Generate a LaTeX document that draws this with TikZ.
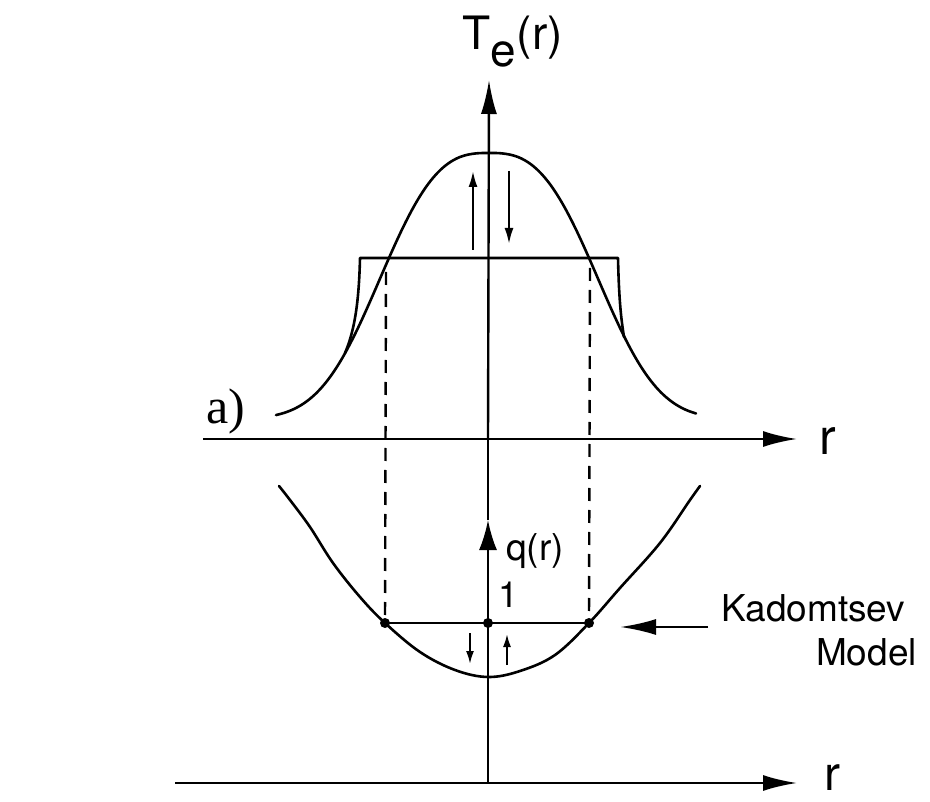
\documentclass[tikz,border=0pt]{standalone}
\usepackage{fontspec}
\setmainfont{TeX Gyre Heros}
\newfontfamily\serifa{Liberation Serif}
\usetikzlibrary{arrows.meta}
\begin{document}
\begin{tikzpicture}[x=1pt,y=-1pt,
  curve/.style={line width=2.6pt, line join=round, line cap=round},
  axis/.style={line width=2.4pt},
  bigtip/.style={-{Latex[length=34pt,width=16pt]}},
  smalltip/.style={-{Latex[length=16pt,width=9pt]}},
  dashline/.style={line width=2.4pt, dash pattern=on 13pt off 9pt},
  dotm/.style={circle, fill=black, inner sep=0pt, minimum size=10pt},
  lab/.style={inner sep=0pt, font=\fontsize{36}{40}\selectfont},
  telab/.style={inner sep=0pt, anchor=base west, font=\fontsize{46}{50}\selectfont}
]
\useasboundingbox (0,0) rectangle (930,802);

% axes coordinates
\coordinate (O2) at (488,783);
\coordinate (qtip) at (488,520);
\coordinate (O1) at (488,439);
\coordinate (Ttip) at (489,80);
\coordinate (A1L) at (203,439);
\coordinate (A1R) at (797,439);
\coordinate (A2L) at (175,783);
\coordinate (A2R) at (797,783);

\draw[axis,bigtip] (A1L) -- (A1R);
\draw[axis,bigtip] (A2L) -- (A2R);
\draw[axis,-{Latex[length=30pt,width=18pt]}] (O2) -- (qtip);
\draw[axis] (qtip) -- (O1);
\draw[axis,bigtip] (O1) -- (Ttip);

% bell-shaped T_e profile
\draw[curve] plot[domain=-213:207, samples=85, smooth]
  ({489+\x}, {153+266*(1-exp(-(abs(\x)/127.8)^2.81))});

% flattened profile
\coordinate (FL) at (345,353);
\coordinate (FR) at (624,337);
\draw[curve] (FL) .. controls (355,330) and (359,300) .. (360,258)
  -- (618,258) .. controls (619,300) and (621,318) .. (FR);

% small arrows in T_e
\coordinate (u1a) at (473,250); \coordinate (u1b) at (473,171);
\coordinate (d1a) at (509,171); \coordinate (d1b) at (509,244);
\draw[line width=2.2pt,smalltip] (u1a) -- (u1b);
\draw[line width=2.2pt,smalltip] (d1a) -- (d1b);

% q profile
\draw[curve] plot[smooth, tension=0.6] coordinates {
  (279,486) (290,500) (310,527) (333,563) (360,597) (385,623) (420,652)
  (455,670) (488,677) (520,671) (555,655) (589,623) (620,588) (660,543)
  (690,500) (700,486)};

% Kadomtsev line and dots
\node[dotm] (pL) at (385,623) {};
\node[dotm] (pC) at (488,623) {};
\node[dotm] (pR) at (589,623) {};
\draw[line width=2.4pt] (pL.center) -- (pC.center) -- (pR.center);

% dashed verticals
\coordinate (dLt) at (386,272);
\coordinate (dRt) at (590,268);
\draw[dashline] (dLt) -- (pL.center);
\draw[dashline] (dRt) -- (pR.center);

% small arrows in q
\coordinate (d2a) at (470,633); \coordinate (d2b) at (470,664);
\coordinate (u2a) at (507,665); \coordinate (u2b) at (507,634);
\draw[line width=2pt,-{Latex[length=13pt,width=8pt]}] (d2a) -- (d2b);
\draw[line width=2pt,-{Latex[length=13pt,width=8pt]}] (u2a) -- (u2b);

% Kadomtsev arrow
\coordinate (kA) at (708,627);
\coordinate (kB) at (620,627);
\draw[line width=2.6pt,-{Latex[length=36pt,width=16pt]}] (kA) -- (kB);

% labels
\node[telab] (T1) at (462,50) {T};
\node[telab] (T2) at ([yshift=-17pt]T1.base east) {e};
\node[telab] (T3) at ([yshift=17pt]T2.base east) {(r)};
\node[lab, anchor=base west, font=\fontsize{37}{42}\selectfont] (qr) at (506,560) {q(r)};
\node[lab, anchor=base west] (one) at (498,607) {1};
\node[lab, anchor=base west, font=\fontsize{50}{56}\selectfont] (r1) at (819,455) {r};
\node[lab, anchor=base west, font=\fontsize{48}{54}\selectfont] (r2) at (824,790) {r};
\node[lab, anchor=base west, font=\fontsize{37}{44}\selectfont] (kad) at (721,621) {Kadomtsev};
\node[lab, anchor=base east, font=\fontsize{37}{44}\selectfont] (mod) at (917,665) {Model};
\node[lab, anchor=base west, font=\serifa\fontsize{50}{54}\selectfont] (a) at (206,424) {a)};
\end{tikzpicture}
\end{document}
